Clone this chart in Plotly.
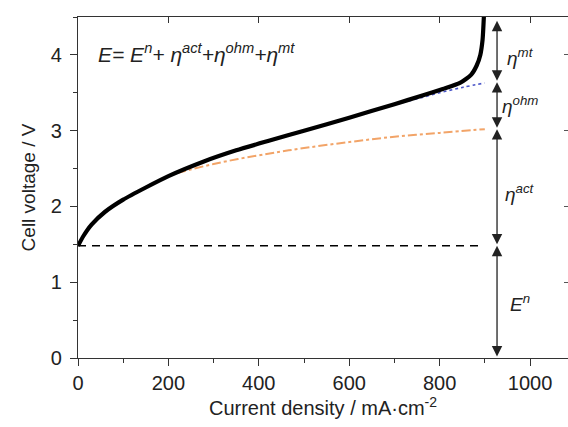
import plotly.graph_objects as go

# ---- data ----
j_total = [0, 12, 30, 60, 100, 150, 200, 277, 350, 424, 500, 600, 700, 760, 807, 845, 870, 882, 890, 895, 898]
v_total = [1.48, 1.61, 1.76, 1.93, 2.09, 2.25, 2.40, 2.59, 2.74, 2.87, 3.00, 3.17, 3.35, 3.46, 3.55, 3.63, 3.74, 3.86, 4.00, 4.20, 4.52]

j_act = [0, 12, 30, 60, 100, 150, 200, 300, 424, 500, 600, 700, 800, 900]
v_act = [1.48, 1.61, 1.76, 1.93, 2.09, 2.25, 2.40, 2.56, 2.70, 2.77, 2.85, 2.92, 2.97, 3.02]

j_ohm = [200, 277, 350, 424, 500, 600, 700, 750, 800, 850, 900]
v_ohm = [2.40, 2.59, 2.74, 2.87, 3.00, 3.17, 3.34, 3.42, 3.50, 3.57, 3.63]

E_n = 1.48
j_dash = [0, 890]

j_arrow = 927
levels = [0, 1.48, 3.02, 3.64, 4.45]
labels = ["<i>E<sup>n</sup></i>", "<i>η<sup>act</sup></i>", "<i>η<sup>ohm</sup></i>", "<i>η<sup>mt</sup></i>"]
label_y = [0.73, 2.18, 3.34, 3.97]
j_label = 978

x_ticks = [0, 200, 400, 600, 800, 1000]
y_ticks = [0, 1, 2, 3, 4]

FONT = "Liberation Sans, Arial, sans-serif"
TXT = "#222222"

fig = go.Figure()
fig.add_trace(go.Scatter(x=j_act, y=v_act, mode="lines", line=dict(color="#F2A468", width=2, dash="dashdot", shape="spline"), showlegend=False))
fig.add_trace(go.Scatter(x=j_ohm, y=v_ohm, mode="lines", line=dict(color="#4A55C8", width=1.6, dash="dot", shape="spline"), showlegend=False))
fig.add_trace(go.Scatter(x=j_dash, y=[E_n, E_n], mode="lines", line=dict(color="black", width=1.5, dash="8px,6px"), showlegend=False))
fig.add_trace(go.Scatter(x=j_total, y=v_total, mode="lines", line=dict(color="black", width=4.2, shape="spline", smoothing=0.6), showlegend=False))

annotations = []
for i in range(4):
    annotations.append(dict(x=j_arrow, y=levels[i + 1], ax=j_arrow, ay=levels[i], xref="x", yref="y", axref="x", ayref="y",
                            showarrow=True, arrowhead=2, arrowside="end+start", arrowsize=1.6, arrowwidth=1.3,
                            arrowcolor="#222222", text=""))
    annotations.append(dict(x=j_label, y=label_y[i], xref="x", yref="y", text=labels[i], showarrow=False,
                            xanchor="center", yanchor="middle", font=dict(family=FONT, size=19, color=TXT)))

annotations.append(dict(x=40, y=4.03, xref="x", yref="y", xanchor="left", yanchor="middle", showarrow=False,
                        text="<i>E= E<sup>n</sup>+ η<sup>act</sup>+η<sup>ohm</sup>+η<sup>mt</sup></i>",
                        font=dict(family=FONT, size=21, color=TXT)))

fig.update_layout(
    width=568, height=427,
    margin=dict(l=78, r=0, t=17, b=69),
    paper_bgcolor="white", plot_bgcolor="white",
    font=dict(family=FONT, color=TXT),
    annotations=annotations,
    xaxis=dict(range=[0, 1084], tickvals=x_ticks, ticks="outside", ticklen=7, tickwidth=1.2, tickcolor="#333",
               showline=True, linecolor="#333", linewidth=1.2, showgrid=False, zeroline=False,
               minor=dict(dtick=100, tick0=0, ticks="outside", ticklen=4, tickcolor="#333"),
               tickfont=dict(size=20, color=TXT),
               title=dict(text="Current density / mA·cm<sup>-2</sup>", font=dict(size=20, color=TXT), standoff=6)),
    xaxis2=dict(range=[0, 1084], overlaying="x", side="top", tickvals=x_ticks, ticks="inside", ticklen=6,
                tickwidth=1.2, tickcolor="#333", showticklabels=False, showline=True, linecolor="#333",
                linewidth=1.2, showgrid=False, zeroline=False),
    yaxis=dict(range=[0, 4.5], tickvals=y_ticks, ticks="outside", ticklen=7, tickwidth=1.2, tickcolor="#333",
               showline=True, linecolor="#333", linewidth=1.2, showgrid=False, zeroline=False,
               minor=dict(dtick=0.5, tick0=0, ticks="outside", ticklen=4, tickcolor="#333"),
               tickfont=dict(size=20, color=TXT), ticklabelstandoff=4,
               title=dict(text="Cell voltage / V", font=dict(size=19, color=TXT), standoff=10)),
    yaxis2=dict(range=[0, 4.5], overlaying="y", side="right", tickvals=y_ticks, ticks="inside", ticklen=4,
                tickcolor="#555", showticklabels=False, showline=False, showgrid=False, zeroline=False),
)
# invisible trace to activate the mirror axes
fig.add_trace(go.Scatter(x=[0], y=[0], xaxis="x2", yaxis="y2", mode="markers", marker=dict(opacity=0), showlegend=False, hoverinfo="skip"))

fig.write_html("out.html")
